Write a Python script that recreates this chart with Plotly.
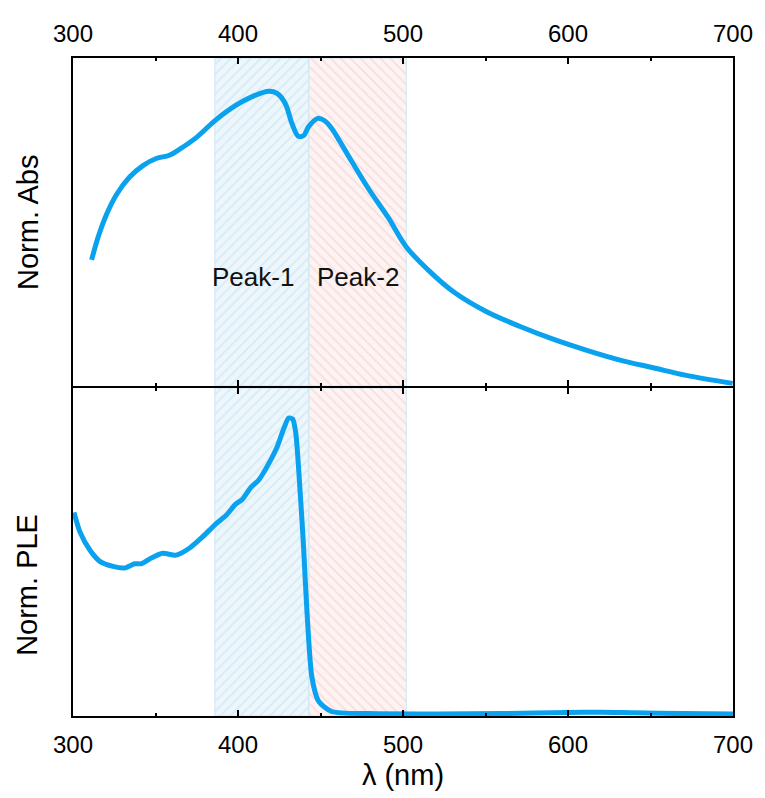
import plotly.graph_objects as go
from plotly.subplots import make_subplots

# ---------------- data ----------------
abs_wl = [311.3, 315.2, 320.3, 326.3, 334.3, 342.4, 350.4, 358.4, 364.5, 374.5,
          386.6, 398.6, 408.6, 418.7, 423.7, 428.7, 432.7, 436.7, 439.8, 442.8,
          448.3, 452.5, 456.8, 461.5, 466.9, 478.9, 491.0, 502.0, 515.0, 531.0,
          551.0, 571.0, 591.4, 611.4, 631.5, 651.6, 671.7, 699.8]
abs_val = [0.428, 0.505, 0.582, 0.649, 0.709, 0.748, 0.772, 0.783, 0.803, 0.842,
           0.903, 0.952, 0.982, 1.000, 0.993, 0.958, 0.891, 0.847, 0.850, 0.880,
           0.908, 0.900, 0.874, 0.832, 0.781, 0.671, 0.572, 0.472, 0.395, 0.318,
           0.251, 0.202, 0.158, 0.121, 0.088, 0.062, 0.036, 0.009]

ple_wl = [300.6, 304.2, 310.2, 316.3, 324.3, 331.3, 337.3, 341.4, 347.4, 354.4,
          362.5, 370.5, 378.5, 386.6, 392.6, 398.6, 402.6, 407.6, 412.7, 418.7,
          423.7, 427.7, 430.7, 433.1, 435.0, 437.7, 439.8, 441.8, 444.8, 448.8,
          456.8, 480.0, 520.0, 560.0, 600.0, 620.0, 640.0, 670.0, 700.0]
ple_val = [0.683, 0.618, 0.557, 0.519, 0.502, 0.497, 0.511, 0.511, 0.530, 0.546,
           0.540, 0.563, 0.601, 0.645, 0.672, 0.711, 0.727, 0.766, 0.793, 0.848,
           0.903, 0.964, 1.000, 0.997, 0.950, 0.750, 0.560, 0.350, 0.130, 0.050,
           0.015, 0.008, 0.007, 0.008, 0.012, 0.013, 0.011, 0.008, 0.007]

region_names = ["Peak-1", "Peak-2"]
region_start = [386, 443]
region_end = [443, 502]
label_x = [409, 473]
label_y = 0.37

x_range = [300, 700]
x_ticks = [300, 400, 500, 600, 700]
abs_range = [0, 1.113]
ple_range = [0, 1.101]

# ---------------- styles ----------------
FONT = "Arial, Liberation Sans, sans-serif"
LINE_COLOR = "#0aa2ee"
region_bg = ["#edf6fb", "#fdf3f3"]
region_fg = ["#b5dcf0", "#f3c2c2"]
region_shape = ["/", "\\"]
region_border = "#cce6f5"

fig = make_subplots(rows=2, cols=1, shared_xaxes=False, vertical_spacing=0)

for row, yr in [(1, abs_range), (2, ple_range)]:
    for i in range(len(region_names)):
        x0, x1 = region_start[i], region_end[i]
        fig.add_trace(go.Scatter(
            x=[x0, x1, x1, x0, x0],
            y=[yr[0], yr[0], yr[1], yr[1], yr[0]],
            mode="lines", fill="toself",
            fillcolor=region_bg[i],
            fillpattern=dict(shape=region_shape[i], bgcolor=region_bg[i],
                             fgcolor=region_fg[i], size=7, solidity=0.22),
            line=dict(color=region_border, width=1),
            hoverinfo="skip", showlegend=False), row=row, col=1)

fig.add_trace(go.Scatter(x=abs_wl, y=abs_val, mode="lines",
                         line=dict(color=LINE_COLOR, width=5, shape="spline", smoothing=1.0),
                         showlegend=False), row=1, col=1)
fig.add_trace(go.Scatter(x=ple_wl, y=ple_val, mode="lines",
                         line=dict(color=LINE_COLOR, width=5, shape="spline", smoothing=0.7),
                         showlegend=False), row=2, col=1)

xcommon = dict(range=x_range, tickvals=x_ticks, ticks="inside", ticklen=6, tickwidth=1.5,
               tickcolor="black", showline=True, linecolor="black", linewidth=2,
               mirror="ticks", showgrid=False, zeroline=False,
               tickfont=dict(family=FONT, size=24, color="black"),
               minor=dict(dtick=50, tick0=300, ticks="inside", ticklen=3, tickwidth=1.5,
                          tickcolor="black", showgrid=False))

fig.update_xaxes(**xcommon, side="top", ticklabelstandoff=4, row=1, col=1)
fig.update_xaxes(**xcommon, side="bottom", ticklabelstandoff=6,
                 title=dict(text="λ (nm)", font=dict(family=FONT, size=29, color="black"),
                            standoff=8), row=2, col=1)

ycommon = dict(showline=True, linecolor="black", linewidth=2, mirror=True, ticks="",
               showticklabels=False, showgrid=False, zeroline=False)
# tiny gap so the two 2px divider lines (drawn outward) coincide
fig.update_yaxes(**ycommon, range=abs_range, domain=[0.5015, 1.0], row=1, col=1)
fig.update_yaxes(**ycommon, range=ple_range, domain=[0.0, 0.4985], row=2, col=1)

for i in range(len(region_names)):
    fig.add_annotation(x=label_x[i], y=label_y, xref="x", yref="y", text=region_names[i],
                       showarrow=False, font=dict(family=FONT, size=26, color="#111111"),
                       xanchor="center", yanchor="middle")

fig.add_annotation(x=-0.069, y=0.750, xref="paper", yref="paper", text="Norm. Abs",
                   textangle=-90, showarrow=False, xanchor="center", yanchor="middle",
                   font=dict(family=FONT, size=29, color="black"))
fig.add_annotation(x=-0.069, y=0.200, xref="paper", yref="paper", text="Norm. PLE",
                   textangle=-90, showarrow=False, xanchor="center", yanchor="middle",
                   font=dict(family=FONT, size=29, color="black"))

# page body has an 8px default margin; size the figure so the plot area lands in place
fig.update_layout(width=757, height=790,
                  margin=dict(l=65, r=28, t=42, b=77),
                  paper_bgcolor="white", plot_bgcolor="white",
                  font=dict(family=FONT, color="black"))

fig.write_html("out.html", config={"displayModeBar": False})
